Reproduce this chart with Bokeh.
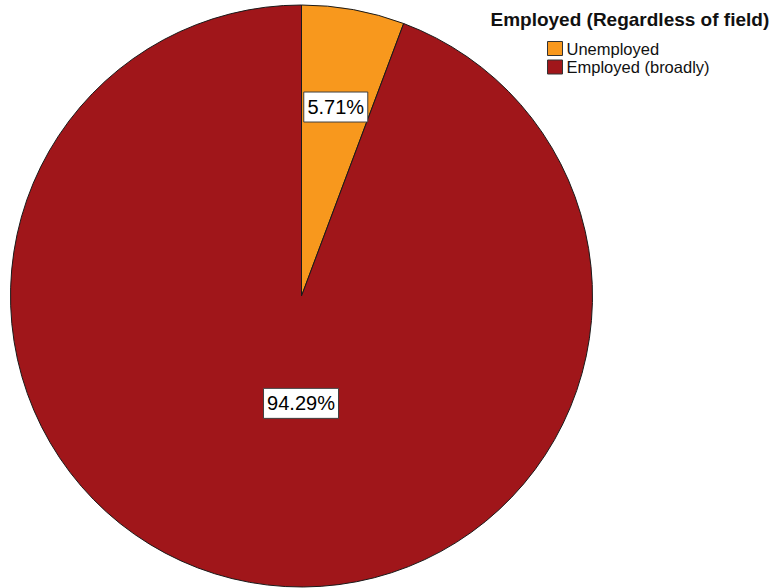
import math
from bokeh.plotting import figure
from bokeh.models import Range1d, ColumnDataSource
from bokeh.embed import file_html
from bokeh.resources import INLINE
from bokeh.core.properties import value

# ---- data ----
categories = ["Unemployed", "Employed (broadly)"]
percentages = [5.71, 94.29]
legend_title = "Employed (Regardless of field)"

# ---- style ----
colors = ["#F8981D", "#A0161A"]
label_r_frac = [0.66, 0.375]
label_dx = [0, 19]
FONT = "Liberation Sans"

W, H = 773, 588
OX, OY = 0, 0  # data coords = page pixel coords (y negated)

p = figure(width=W, height=H, output_backend="svg", toolbar_location=None,
           x_range=Range1d(OX, OX + W), y_range=Range1d(-(OY + H), -OY),
           x_axis_type=None, y_axis_type=None, min_border=0)
p.grid.visible = False
p.outline_line_color = None
p.background_fill_color = "white"
p.border_fill_color = "white"

cx, cy, R = 301.0, -295.5, 291.0

total = sum(percentages)
starts, ends, lx, ly, texts, bw = [], [], [], [], [], []
cum = 0.0
for i, v in enumerate(percentages):
    c0 = cum / total
    cum += v
    c1 = cum / total
    a_start = math.radians(90 - c0 * 360)
    a_end = math.radians(90 - c1 * 360)
    starts.append(a_end)
    ends.append(a_start)
    m = (a_start + a_end) / 2
    r = label_r_frac[i] * R
    lx.append(cx + r * math.cos(m) + label_dx[i])
    ly.append(cy + r * math.sin(m))
    t = f"{v:.2f}%"
    texts.append(t)
    bw.append(11 * len(t) + 9)

src = ColumnDataSource(dict(start=starts, end=ends, color=colors,
                            lx=lx, ly=ly, text=texts, bw=bw))

p.wedge(x=cx, y=cy, radius=R, start_angle="start", end_angle="end",
        direction="anticlock", fill_color="color", line_color="#1a1a1a",
        line_width=1, source=src)

p.rect(x="lx", y="ly", width="bw", height=30, fill_color="white",
       line_color="#404040", line_width=1, source=src)
p.text(x="lx", y="ly", text="text", text_font=value(FONT),
       text_font_size="20px", text_color="black", text_align="center",
       text_baseline="middle", source=src)

# ---- legend ----
p.text(x=[490], y=[-19], text=[legend_title], text_font=value(FONT),
       text_font_size="19px", text_font_style="bold", text_color="#111111",
       text_align="left", text_baseline="middle")

ley = [-(48 + 18.5 * i) for i in range(len(categories))]
lsrc = ColumnDataSource(dict(x=[554.5] * len(categories), y=ley,
                             tx=[566] * len(categories),
                             ty=ley,
                             color=colors, text=categories))
p.rect(x="x", y="y", width=15, height=14, fill_color="color",
       line_color="#333333", line_width=1, source=lsrc)
p.text(x="tx", y="ty", text="text", text_font=value(FONT),
       text_font_size="16.5px", text_color="#111111", text_align="left",
       text_baseline="middle", source=lsrc)

open("out.html", "w").write(file_html(p, INLINE))
